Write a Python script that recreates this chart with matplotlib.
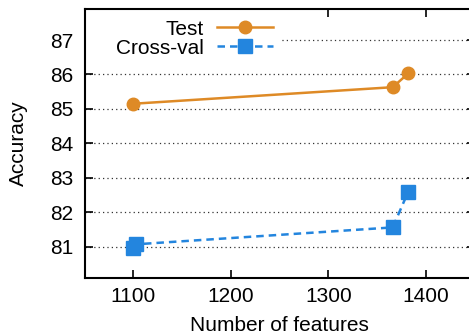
import matplotlib
matplotlib.use("Agg")
import matplotlib.pyplot as plt
from matplotlib.patches import Rectangle

plt.rcParams['font.family'] = ['Liberation Sans', 'DejaVu Sans']

test_x = [1100, 1366, 1382]
test_y = [85.15, 85.63, 86.03]
cv_x = [1100, 1103, 1366, 1382]
cv_y = [80.96, 81.07, 81.56, 82.60]
xticks = [1100, 1200, 1300, 1400]
yticks = [81, 82, 83, 84, 85, 86, 87]

orange = '#DE8A26'
blue = '#2385DE'

W, H = 469, 335
FS = 15
fig = plt.figure(figsize=(W / 100, H / 100), dpi=100)
left_px, right_px = 84.6, 474.6
top_px, bot_px = 9.0, 277.7
ax = fig.add_axes([left_px / W, 1 - bot_px / H, (right_px - left_px) / W, (bot_px - top_px) / H])

ax.plot(test_x, test_y, '-o', color=orange, lw=1.8, ms=9, label='Test', zorder=3)
ax.plot(cv_x, cv_y, '--s', color=blue, lw=1.8, ms=10, dashes=(3, 2), label='Cross-val', zorder=3)

ax.set_xlim(1050, 1450)
ax.set_ylim(80.1, 87.9)
ax.set_xticks(xticks)
ax.set_yticks(yticks)
ax.tick_params(direction='in', length=6, width=1.2, top=True, right=True, labelsize=FS, pad=7)
ax.tick_params(axis='y', pad=8)
for s in ax.spines.values():
    s.set_linewidth(1.5)

ax.set_axisbelow(True)
ax.grid(axis='y', linestyle=(0, (1, 2.5)), color='#333333', lw=0.9)
ax.add_patch(Rectangle((0, 0.8), 0.5, 0.2, transform=ax.transAxes, facecolor='white',
                       edgecolor='none', zorder=1))

ax.set_xlabel('Number of features', fontsize=FS, labelpad=7)
ax.set_ylabel('Accuracy', fontsize=FS, labelpad=16)

leg = ax.legend(loc='upper right', bbox_to_anchor=(0.483, 0.96), markerfirst=False, frameon=False,
                fontsize=FS, handlelength=2.7, handletextpad=0.6, labelspacing=0.0,
                borderaxespad=0, borderpad=0)

fig.savefig('out.png', dpi=100)
